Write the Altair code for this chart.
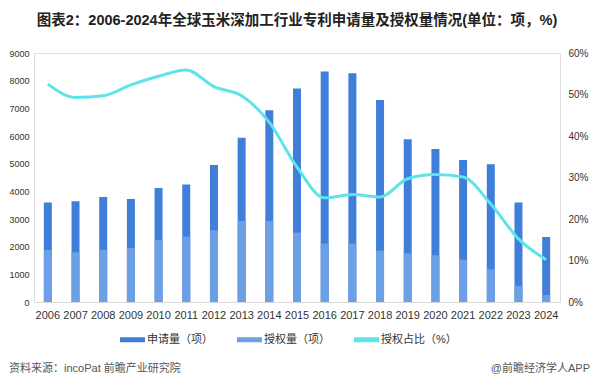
import altair as alt
import pandas as pd

years = ["2006", "2007", "2008", "2009", "2010", "2011", "2012", "2013", "2014", "2015",
         "2016", "2017", "2018", "2019", "2020", "2021", "2022", "2023", "2024"]
applied = [3600, 3640, 3795, 3720, 4120, 4250, 4950, 5940, 6930, 7720,
           8330, 8270, 7300, 5880, 5530, 5130, 4980, 3600, 2350]
granted = [1880, 1796, 1880, 1950, 2240, 2360, 2590, 2930, 2930, 2510,
           2110, 2110, 1855, 1760, 1690, 1530, 1180, 580, 250]
ratio = [0.525, 0.493, 0.497, 0.523, 0.544, 0.559, 0.519, 0.497, 0.433, 0.325,
         0.251, 0.259, 0.253, 0.297, 0.307, 0.301, 0.236, 0.152, 0.102]

legend_labels = ["申请量（项）", "授权量（项）", "授权占比（%）"]
colors = ["#3f7fd9", "#6d9fe5", "#5ee3ea"]

df = pd.DataFrame({"year": years, "ratio": ratio})
bars_df = pd.DataFrame({
    "year": years + years,
    "value": applied + granted,
    "series": [legend_labels[0]] * len(years) + [legend_labels[1]] * len(years),
})

FONT = "Liberation Sans, Noto Sans CJK SC, sans-serif"

x_enc = alt.X("year:N", title=None,
              scale=alt.Scale(paddingInner=0, paddingOuter=0),
              axis=alt.Axis(labelAngle=0, labelFontSize=11, labelColor="#333333",
                            ticks=False, domainColor="#d9d9d9", labelPadding=7,
                            labelFont=FONT))

color_scale = alt.Scale(domain=legend_labels, range=colors)
legend = alt.Legend(title=None, orient="none", legendX=86, legendY=274,
                    direction="horizontal", symbolType="M-1,-0.2H1V0.2H-1Z",
                    symbolSize=625, symbolStrokeWidth=0, labelFontSize=11,
                    labelColor="#333333", labelFont=FONT, columnPadding=24,
                    labelOffset=2)

bars = alt.Chart(bars_df).mark_bar(size=8).encode(
    x=x_enc,
    y=alt.Y("value:Q", title=None, stack=None,
            scale=alt.Scale(domain=[0, 9000]),
            axis=alt.Axis(values=list(range(0, 9001, 1000)), format="d", grid=False,
                          domain=False, ticks=False, labelFontSize=9, labelColor="#333333",
                          labelPadding=5, labelFont=FONT)),
    color=alt.Color("series:N", scale=color_scale, legend=legend),
    order=alt.Order("series:N", sort="descending"),
)

line = alt.Chart(df).mark_line(interpolate="monotone", strokeWidth=3, color=colors[2]).encode(
    x=x_enc,
    y=alt.Y("ratio:Q", title=None, scale=alt.Scale(domain=[0, 0.6]),
            axis=alt.Axis(orient="right", values=[0, 0.1, 0.2, 0.3, 0.4, 0.5, 0.6],
                          format=".0%", grid=False, domain=False, ticks=False,
                          labelFontSize=10, labelColor="#333333", labelPadding=8,
                          labelFont=FONT)),
)

footer = pd.DataFrame({"t": ["资料来源：incoPat 前瞻产业研究院"]})
footer_r = pd.DataFrame({"t": ["@前瞻经济学人APP"]})
src = alt.Chart(footer).mark_text(align="left", baseline="middle", fontSize=11,
                                  color="#555555", font=FONT).encode(
    x=alt.value(-25), y=alt.value(316), text="t:N")
src_r = alt.Chart(footer_r).mark_text(align="right", baseline="middle", fontSize=11,
                                      color="#555555", font=FONT).encode(
    x=alt.value(556), y=alt.value(316), text="t:N")

chart = alt.layer(bars, line, src, src_r).resolve_scale(y="independent").properties(
    width=526, height=249,
    autosize=alt.AutoSizeParams(type="none"),
    padding={"left": 26, "top": 45, "right": 32, "bottom": 77},
    title=alt.TitleParams("图表2：2006-2024年全球玉米深加工行业专利申请量及授权量情况(单位：项，%)",
                          anchor="middle", fontSize=14.5, fontWeight="bold", color="#222222",
                          font=FONT, offset=20),
).configure_view(stroke=None).configure(background="white")

chart.save("out.html", embed_options={"renderer": "svg", "actions": False})
